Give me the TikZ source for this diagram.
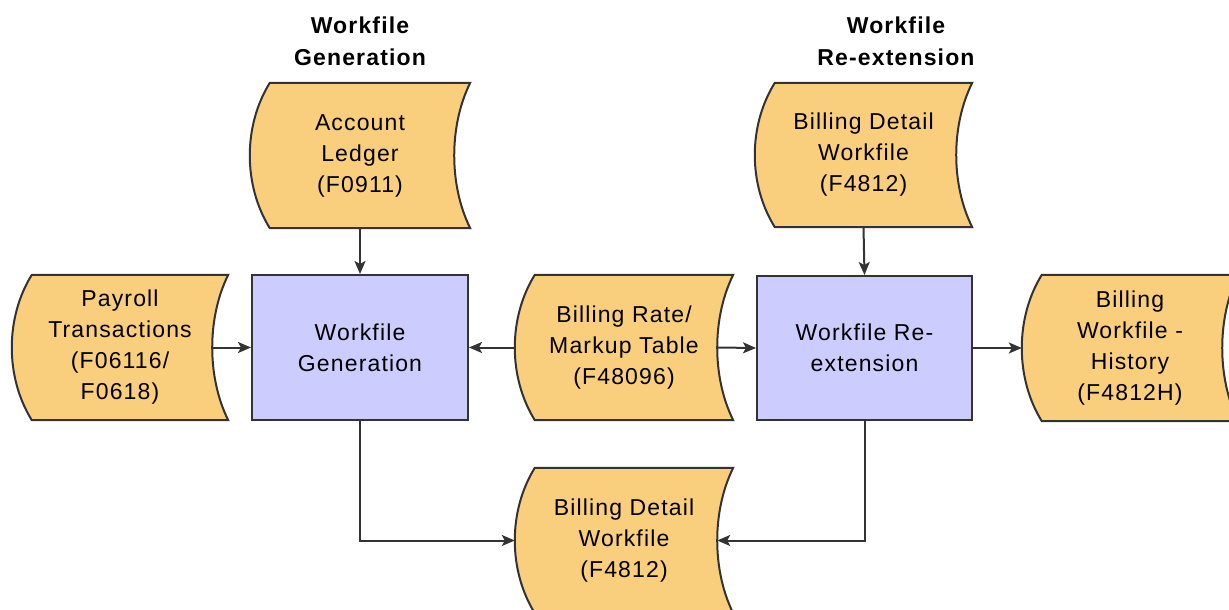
\documentclass[tikz,border=0pt]{standalone}
\usepackage{fontspec}
\newfontfamily\lbl[LetterSpace=5]{Liberation Sans}
\usetikzlibrary{arrows.meta,backgrounds}
\definecolor{storeor}{HTML}{F9CE7C}
\definecolor{procbl}{HTML}{CCCCFF}
\definecolor{edge}{HTML}{333333}
\tikzset{
  base/.style={inner sep=0pt, align=center, font=\lbl\fontsize{23}{31}\selectfont},
  store/.style={base},
  proc/.style={base, draw=edge, line width=2pt, fill=procbl},
  storeline/.style={draw=edge, line width=2pt, fill=storeor},
  title/.style={inner sep=0pt, align=center, font=\lbl\bfseries\fontsize{23}{32}\selectfont},
  arr/.style={draw=edge, line width=2pt, -{Stealth[length=13pt,width=11pt,inset=3pt]}},
}
\newcommand\storedshape[1]{%
  \path[storeline] ([xshift=20pt]#1.north west) -- (#1.north east)
    .. controls ([xshift=-21.3pt,yshift=-43pt]#1.north east) and ([xshift=-21.3pt,yshift=43pt]#1.south east) .. (#1.south east)
    -- ([xshift=20pt]#1.south west)
    .. controls ([xshift=-6.7pt,yshift=43pt]#1.south west) and ([xshift=-6.7pt,yshift=-43pt]#1.north west) .. cycle;}
\begin{document}
\begin{tikzpicture}[x=1pt,y=-1pt]
\useasboundingbox (0,0) rectangle (1229,610);
\node[title] (t1) at (360,41) {Workfile\\Generation};
\node[title] (t2) at (896,41) {Workfile\\Re-extension};
\node[store, minimum width=220pt, minimum height=145pt] (acct) at (360,155.5) {Account\\Ledger\\(F0911)};
\node[store, minimum width=216pt, minimum height=145pt] (pay) at (120,347.5) {Payroll\\Transactions\\(F06116/\\F0618)};
\node[proc, minimum width=216pt, minimum height=145pt] (wg) at (360,347.5) {Workfile\\Generation};
\node[store, minimum width=218pt, minimum height=145pt] (br) at (624,347.5) {Billing Rate/\\Markup Table\\(F48096)};
\node[proc, minimum width=215pt, minimum height=144pt] (wr) at (864.5,348) {Workfile Re-\\extension};
\node[store, minimum width=217pt, minimum height=144pt] (bdt) at (863.5,155) {Billing Detail\\Workfile\\(F4812)};
\node[store, minimum width=216pt, minimum height=146pt] (hist) at (1130,348) {Billing\\Workfile -\\History\\(F4812H)};
\node[store, minimum width=218pt, minimum height=145pt] (bdb) at (624,540.5) {Billing Detail\\Workfile\\(F4812)};
\begin{scope}[on background layer]
  \clip (0,0) rectangle (1229,610);
  \storedshape{acct}
  \storedshape{pay}
  \storedshape{br}
  \storedshape{bdt}
  \storedshape{hist}
  \storedshape{bdb}
\end{scope}
\draw[arr] (acct.south) -- (wg.north);
\draw[arr] ([xshift=-16pt]pay.east) -- (wg.west);
\draw[arr] (br.west) -- (wg.east);
\draw[arr] ([xshift=-16pt]br.east) -- (wr.west);
\draw[arr] (bdt.south) -- (wr.north);
\draw[arr] (wr.east) -- (hist.west);
\draw[arr] (wg.south) |- (bdb.west);
\draw[arr] (wr.south) |- ([xshift=-16pt]bdb.east);
\end{tikzpicture}
\end{document}
